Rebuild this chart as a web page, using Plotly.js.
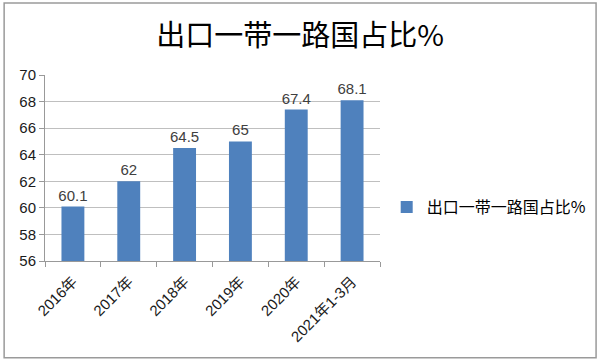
<!DOCTYPE html>
<html>
<head>
<meta charset="utf-8">
<script src="https://cdn.plot.ly/plotly-3.0.1.min.js"></script>
<style>html,body{margin:0;padding:0;background:#fff;}#chart{width:600px;height:362px;}</style>
</head>
<body>
<div id="chart"></div>
<script>
const categories = ["2016年", "2017年", "2018年", "2019年", "2020年", "2021年1-3月"];
const values = [60.1, 62, 64.5, 65, 67.4, 68.1];
const labels = ["60.1", "62", "64.5", "65", "67.4", "68.1"];
const seriesName = "出口一带一路国占比%";
const yTicks = [56, 58, 60, 62, 64, 66, 68, 70];

const fontFam = "'Liberation Sans', Arial, 'Noto Sans CJK SC', sans-serif";
const trace = {
  type: "bar",
  x: categories,
  y: values,
  name: seriesName,
  text: labels,
  textposition: "outside",
  constraintext: "none",
  cliponaxis: false,
  textfont: {family: fontFam, size: 15, color: "#404040"},
  marker: {color: "#4F81BD"},
  showlegend: true,
  hoverinfo: "none"
};
const layout = {
  width: 600, height: 362,
  margin: {l: 45, r: 220, t: 75, b: 101, autoexpand: false},
  paper_bgcolor: "#fff", plot_bgcolor: "#fff",
  bargap: 0.59,
  title: {text: "出口一带一路国占比%", font: {family: "'Noto Sans CJK SC', sans-serif", size: 29, color: "#000"}, x: 0.5, xanchor: "center", y: 0.9, yanchor: "middle"},
  xaxis: {
    type: "category",
    tickson: "boundaries",
    ticks: "outside", ticklen: 5, tickcolor: "#999999",
    showline: true, linecolor: "#999999", linewidth: 1,
    showgrid: false,
    tickangle: -45,
    ticklabelstandoff: 5,
    tickfont: {family: fontFam, size: 15, color: "#1a1a1a"}
  },
  yaxis: {
    range: [56, 70],
    tickvals: yTicks,
    ticktext: yTicks.map(String),
    ticks: "outside", ticklen: 5, tickcolor: "#999999",
    showline: true, linecolor: "#999999", linewidth: 1,
    showgrid: true, gridcolor: "#bfbfbf", gridwidth: 1,
    zeroline: false,
    tickfont: {family: fontFam, size: 15, color: "#1a1a1a"}
  },
  legend: {x: 1.02, xanchor: "left", y: 0.29, yanchor: "middle", font: {family: "'Noto Sans CJK SC', sans-serif", size: 16, color: "#000"}, bgcolor: "rgba(0,0,0,0)", itemwidth: 30},
  shapes: [{type: "rect", xref: "paper", yref: "paper", x0: -0.122, x1: 1.645, y0: -0.52, y1: 1.387, line: {color: "#9a9a9a", width: 1.5}, fillcolor: "rgba(0,0,0,0)", layer: "below"}]
};
Plotly.newPlot("chart", [trace], layout, {displayModeBar: false, staticPlot: true});
</script>
</body>
</html>
